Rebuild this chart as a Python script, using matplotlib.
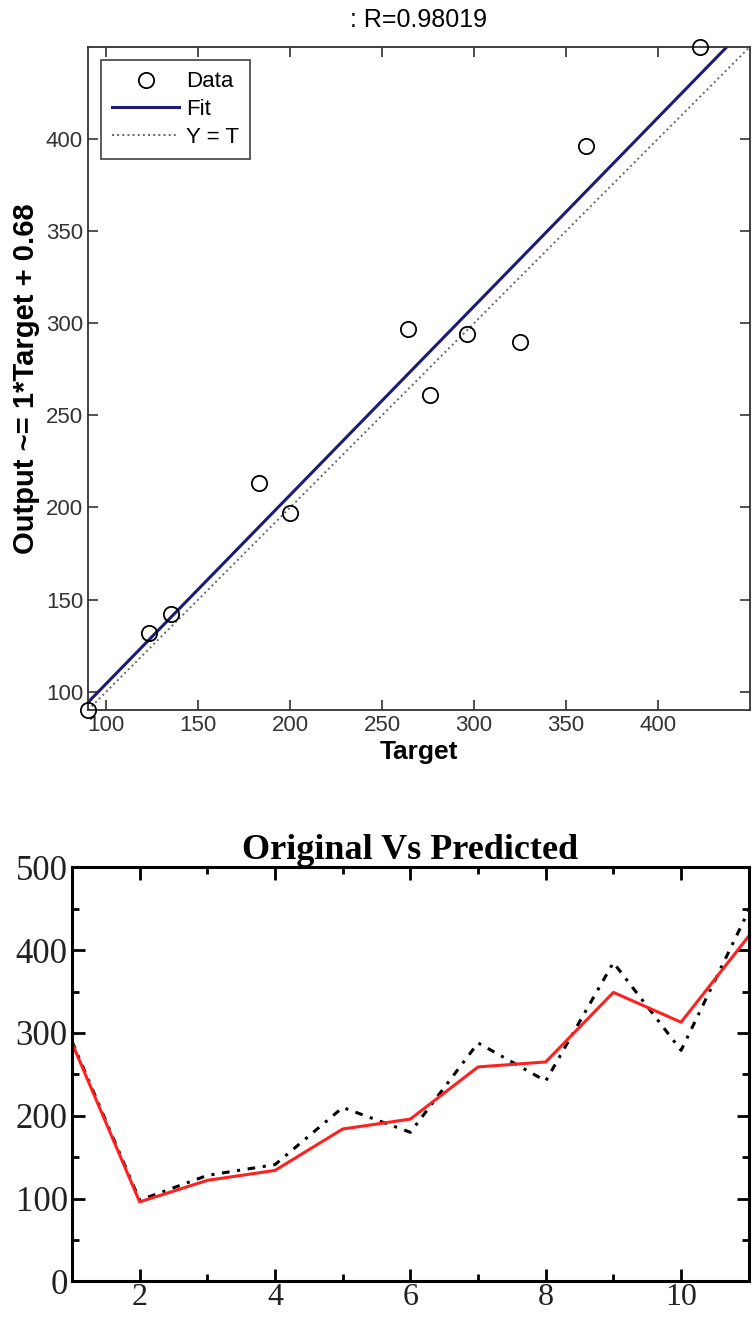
import numpy as np
import matplotlib
matplotlib.use("Agg")
import matplotlib.pyplot as plt
from matplotlib.ticker import MultipleLocator

# regression panel data (target vs network output)
target = [90, 123, 135, 183, 200, 264, 276, 296, 325, 361, 423]
output = [90, 132, 142, 213, 197, 297, 261, 294, 290, 396, 450]
r_value = 0.98019
fit_label = "Output ~= 1*Target + 0.68"
reg_ticks = [100, 150, 200, 250, 300, 350, 400]

# time series panel data
sample = [1, 2, 3, 4, 5, 6, 7, 8, 9, 10, 11]
original = [290, 98, 128, 141, 210, 180, 288, 242, 385, 279, 448]
predicted = [288, 96, 122, 134, 184, 196, 259, 265, 349, 313, 417]

fig = plt.figure(figsize=(7.52, 13.21), dpi=100)

# ---- top: regression plot ----
ax1 = fig.add_axes([0.117, 0.4625, 0.880, 0.502])
lo = min(min(target), min(output))
hi = max(max(target), max(output))
slope, intercept = np.polyfit(target, output, 1)
xs = np.array([lo, hi])

ax1.plot(target, output, "o", mfc="none", mec="black", ms=11, mew=1.3,
         label="Data", zorder=3, clip_on=False)
ax1.plot(xs, slope * xs + intercept, "-", color="#1c1c78", lw=2.2, label="Fit")
ax1.plot(xs, xs, ":", color="#666666", lw=1.4, label="Y = T")
ax1.set_xlim(lo, hi)
ax1.set_ylim(lo, hi)
ax1.set_xticks(reg_ticks)
ax1.set_yticks(reg_ticks)
ax1.tick_params(direction="in", top=True, right=True, length=7, width=1.2,
                labelsize=16, labelcolor="#333333", color="#333333")
for lab in ax1.get_xticklabels() + ax1.get_yticklabels():
    lab.set_family("Liberation Sans")
for sp in ax1.spines.values():
    sp.set_color("#333333")
    sp.set_linewidth(1.3)
ax1.set_title(": R=%.5f" % r_value, fontsize=18, family="Liberation Sans", pad=14)
ax1.set_xlabel("Target", fontsize=19, fontweight="bold", family="Liberation Sans", labelpad=3)
ax1.set_ylabel(fit_label, fontsize=21, fontweight="bold", family="Liberation Sans", labelpad=4)
leg = ax1.legend(loc="upper left", frameon=True, fancybox=False,
                 edgecolor="#222222", handlelength=3.0, borderpad=0.5,
                 labelspacing=0.3, handletextpad=0.3, borderaxespad=0.6,
                 prop={"family": "Liberation Sans", "size": 16})
leg.get_frame().set_linewidth(1.3)

# ---- bottom: original vs predicted ----
ax2 = fig.add_axes([0.0957, 0.030, 0.900, 0.3134])
ax2.plot(sample, original, color="black", lw=2.2, linestyle=(0, (2.5, 2.5, 1, 2.5)))
ax2.plot(sample, predicted, color="#ff2020", lw=2.2)
ax2.set_xlim(1, 11)
ax2.set_ylim(0, 500)
ax2.set_xticks([2, 4, 6, 8, 10])
ax2.set_yticks([0, 100, 200, 300, 400, 500])
ax2.xaxis.set_minor_locator(MultipleLocator(1))
ax2.yaxis.set_minor_locator(MultipleLocator(50))
ax2.tick_params(which="both", direction="in", top=True, right=True, width=2,
                labelsize=25, labelcolor="#222222", pad=3)
ax2.tick_params(axis="x", labelsize=23, pad=1)
ax2.tick_params(which="major", length=9)
ax2.tick_params(which="minor", length=5)
for lab in ax2.get_xticklabels() + ax2.get_yticklabels():
    lab.set_family("Liberation Serif")
for sp in ax2.spines.values():
    sp.set_linewidth(2.2)
ax2.set_title("Original Vs Predicted", fontsize=26, fontweight="bold",
              family="Liberation Serif", pad=4)

fig.savefig("out.png", dpi=100)
